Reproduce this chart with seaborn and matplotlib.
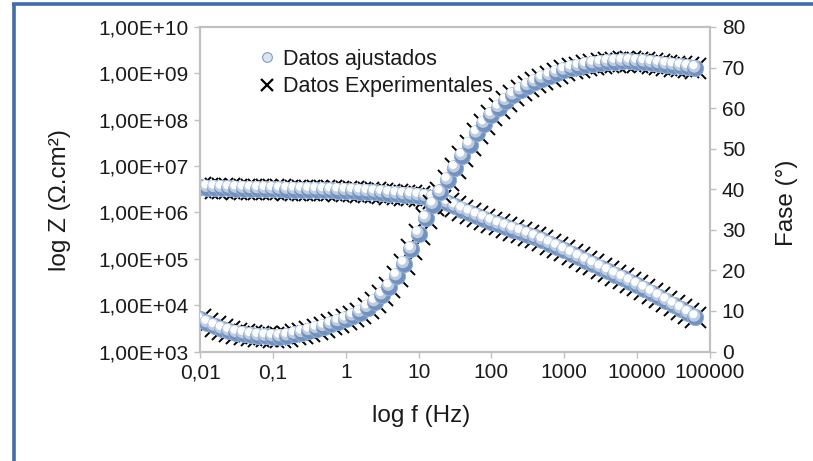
import numpy as np
import pandas as pd
import matplotlib
matplotlib.use("Agg")
import matplotlib.pyplot as plt
import matplotlib.transforms as mtransforms
from matplotlib.lines import Line2D
import seaborn as sns

# ---------------- data ----------------
freq_hz = [0.01, 0.01259, 0.01585, 0.01995, 0.02512, 0.03162, 0.03981, 0.05012, 0.0631, 0.07943,
           0.1, 0.1259, 0.1585, 0.1995, 0.2512, 0.3162, 0.3981, 0.5012, 0.631, 0.7943,
           1.0, 1.259, 1.585, 1.995, 2.512, 3.162, 3.981, 5.012, 6.31, 7.943,
           10.0, 12.59, 15.85, 19.95, 25.12, 31.62, 39.81, 50.12, 63.1, 79.43,
           100.0, 125.9, 158.5, 199.5, 251.2, 316.2, 398.1, 501.2, 631.0, 794.3,
           1000.0, 1259.0, 1585.0, 1995.0, 2512.0, 3162.0, 3981.0, 5012.0, 6310.0, 7943.0,
           10000.0, 12590.0, 15850.0, 19950.0, 25120.0, 31620.0, 39810.0, 50120.0, 63100.0]

z_fit = [3.467e6, 3.428e6, 3.388e6, 3.350e6, 3.311e6, 3.281e6, 3.251e6, 3.221e6, 3.199e6, 3.177e6,
         3.155e6, 3.133e6, 3.112e6, 3.090e6, 3.069e6, 3.048e6, 3.020e6, 2.999e6, 2.972e6, 2.944e6,
         2.917e6, 2.871e6, 2.818e6, 2.754e6, 2.692e6, 2.618e6, 2.541e6, 2.455e6, 2.399e6, 2.344e6,
         2.265e6, 2.163e6, 2.042e6, 1.841e6, 1.585e6, 1.349e6, 1.148e6, 9.886e5, 8.511e5, 7.328e5,
         6.310e5, 5.495e5, 4.842e5, 4.266e5, 3.758e5, 3.311e5, 2.884e5, 2.483e5, 2.113e5, 1.799e5,
         1.514e5, 1.274e5, 1.072e5, 9.016e4, 7.586e4, 6.383e4, 5.370e4, 4.519e4, 3.802e4, 3.199e4,
         2.692e4, 2.239e4, 1.841e4, 1.514e4, 1.245e4, 1.012e4, 8.222e3, 6.683e3, 5.433e3]

phase_fit = [7.9, 7.0, 6.2, 5.5, 5.0, 4.6, 4.3, 4.0, 3.8, 3.7,
             3.6, 3.6, 3.8, 4.2, 4.6, 5.1, 5.6, 6.1, 6.7, 7.3,
             7.9, 8.7, 9.6, 10.8, 12.2, 13.9, 16.0, 18.6, 21.6, 25.2,
             29.0, 32.8, 36.2, 39.2, 42.2, 45.2, 48.2, 51.0, 53.8, 56.2,
             58.3, 60.1, 61.8, 63.2, 64.4, 65.5, 66.4, 67.3, 68.0, 68.7,
             69.3, 69.8, 70.2, 70.6, 70.9, 71.1, 71.3, 71.4, 71.5, 71.5,
             71.4, 71.3, 71.1, 70.9, 70.7, 70.5, 70.3, 70.1, 69.8]

# experimental points coincide with the fit at the resolution of the picture
z_exp = list(z_fit)
phase_exp = list(phase_fit)

x_ticks = [0.01, 0.1, 1, 10, 100, 1000, 10000, 100000]
x_tick_labels = ["0,01", "0,1", "1", "10", "100", "1000", "10000", "100000"]
z_ticks = [1e3, 1e4, 1e5, 1e6, 1e7, 1e8, 1e9, 1e10]
z_tick_labels = ["1,00E+03", "1,00E+04", "1,00E+05", "1,00E+06",
                 "1,00E+07", "1,00E+08", "1,00E+09", "1,00E+10"]
phase_ticks = [0, 10, 20, 30, 40, 50, 60, 70, 80]

legend_labels = ["Datos ajustados", "Datos Experimentales"]

# ---------------- style ----------------
sns.set_style("white")
plt.rcParams["font.family"] = ["Liberation Sans", "DejaVu Sans"]

W, H = 813, 461
fig = plt.figure(figsize=(W / 100, H / 100), dpi=100)
ax = fig.add_axes([200 / W, 1 - 351.5 / H, 510 / W, (351.5 - 27) / H])
ax2 = ax.twinx()

SPINE = "#c0c0c0"
TXT = "#1a1a1a"

df_z = pd.DataFrame({"f": freq_hz, "z": z_exp})
df_p = pd.DataFrame({"f": freq_hz, "p": phase_exp})

# experimental: black crosses (underneath the spheres)
sns.scatterplot(data=df_z, x="f", y="z", ax=ax, marker="x", s=230,
                color="black", linewidth=1.4, zorder=2, legend=False)
sns.scatterplot(data=df_p, x="f", y="p", ax=ax2, marker="x", s=230,
                color="black", linewidth=1.4, zorder=2, legend=False)

ax.set_xscale("log")
ax.set_yscale("log")
ax.set_xlim(0.01, 100000)
ax.set_ylim(1e3, 1e10)
ax2.set_ylim(0, 80)


def spheres(axis, xs, ys, z0):
    t_mid = mtransforms.offset_copy(axis.transData, fig=fig, x=-1.2, y=1.8, units="dots")
    t_hi = mtransforms.offset_copy(axis.transData, fig=fig, x=-2.0, y=3.2, units="dots")
    for i, (xv, yv) in enumerate(zip(xs, ys)):
        zz = z0 + i * 0.01
        axis.scatter([xv], [yv], s=135, marker="o", facecolor="#7191bf",
                     edgecolor="#93acd0", linewidth=0.7, zorder=zz)
        axis.scatter([xv], [yv], s=78, marker="o", facecolor="#bccde3",
                     edgecolor="none", zorder=zz + 0.003, transform=t_mid)
        axis.scatter([xv], [yv], s=34, marker="o", facecolor="#fcfdfe",
                     edgecolor="none", zorder=zz + 0.006, transform=t_hi)


spheres(ax, freq_hz, z_fit, 3)
spheres(ax2, freq_hz, phase_fit, 3)

# ticks / labels
ax.set_xticks(x_ticks, x_tick_labels)
ax.set_yticks(z_ticks, z_tick_labels)
ax2.set_yticks(phase_ticks, [str(v) for v in phase_ticks])
ax.xaxis.set_minor_locator(matplotlib.ticker.NullLocator())
ax.yaxis.set_minor_locator(matplotlib.ticker.NullLocator())
ax.set_xlabel("")
ax.set_ylabel("")
ax2.set_ylabel("")

for a in (ax, ax2):
    for sp in a.spines.values():
        sp.set_color(SPINE)
        sp.set_linewidth(1.5)
        sp.set_visible(True)
ax.tick_params(axis="both", which="major", length=4.5, width=1, color=SPINE,
               labelsize=15, labelcolor=TXT, pad=4, left=True, bottom=True)
ax2.tick_params(axis="y", which="major", length=4.5, width=1, color=SPINE,
                labelsize=15, labelcolor=TXT, pad=4, right=True)

fig.text(60 / W, 1 - 200 / H, "log Z (Ω.cm²)", rotation=90, ha="center", va="center",
         fontsize=17.5, color=TXT)
fig.text(787 / W, 1 - 203 / H, "Fase (°)", rotation=90, ha="center", va="center",
         fontsize=17.5, color=TXT)
fig.text(421 / W, 1 - 416 / H, "log f (Hz)", ha="center", va="center",
         fontsize=17.5, color=TXT)

# legend
handles = [Line2D([], [], ls="", marker="o", markersize=7, markerfacecolor="#dbe4f0",
                  markeredgecolor="#7f9cc4", markeredgewidth=0.8),
           Line2D([], [], ls="", marker="x", markersize=9, color="black", markeredgewidth=1.6)]
leg = ax2.legend(handles, legend_labels, loc="upper left",
                 bbox_to_anchor=(258 / W, 1 - 49 / H), bbox_transform=fig.transFigure,
                 frameon=False, fontsize=15.5, handlelength=0.8, handletextpad=0.35,
                 labelspacing=0.3, borderaxespad=0, borderpad=0)
for t in leg.get_texts():
    t.set_color(TXT)

# blue frame of the chart area (top and left edges)
BLUE = "#3f6cab"
fig.add_artist(Line2D([12 / W, 1.0], [1 - 4.5 / H, 1 - 4.5 / H], color=BLUE,
                      linewidth=2.6, transform=fig.transFigure, solid_capstyle="butt"))
fig.add_artist(Line2D([13.5 / W, 13.5 / W], [0, 1 - 3.2 / H], color=BLUE,
                      linewidth=2.6, transform=fig.transFigure, solid_capstyle="butt"))

fig.savefig("out.png", dpi=100, facecolor="white")
